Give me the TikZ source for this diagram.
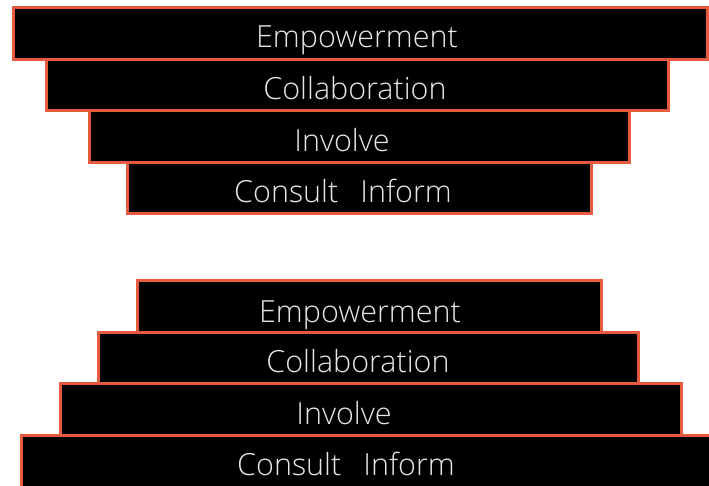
\documentclass[tikz,border=0pt]{standalone}
\usepackage{fontspec}
\newfontfamily\tierfont{Open Sans Light}
\usetikzlibrary{positioning}
\definecolor{tierline}{HTML}{E65A3F}
\definecolor{tiertext}{HTML}{E6E6E6}
\tikzset{
  tier/.style={draw=tierline, line width=3pt, fill=black},
  tierlabel/.style={text=tiertext, font=\tierfont\fontsize{30.5}{33}\selectfont, inner sep=0pt, anchor=base}
}
\begin{document}
\begin{tikzpicture}[x=1pt,y=-1pt]
\useasboundingbox[fill=white] (0,0) rectangle (709,486);

% Upper stack (widest on top)
\foreach \l/\r/\t/\b/\c/\y/\name/\txt in {
    13/707/8/60/357/48/up1/Empowerment,
    46/668/60/111/355/100/up2/Collaboration,
    89/629/111/163/342/152/up3/Involve,
    127/591/163/214/343/203/up4/{Consult\hspace{22pt}Inform}}
  {
    \draw[tier] (\l,\t) rectangle (\r,\b);
    \node[tierlabel] (\name) at (\c,\y) {\txt};
  }

% Lower stack (widest at the bottom)
\foreach \l/\r/\t/\b/\c/\y/\name/\txt in {
    137/601/280/332/360/322/low1/Empowerment,
    98/638/332/383/358/372/low2/Collaboration,
    60/681/383/435/344/424/low3/Involve,
    21/730/435/500/346/475/low4/{Consult\hspace{22pt}Inform}}
  {
    \draw[tier] (\l,\t) rectangle (\r,\b);
    \node[tierlabel] (\name) at (\c,\y) {\txt};
  }

\end{tikzpicture}
\end{document}
